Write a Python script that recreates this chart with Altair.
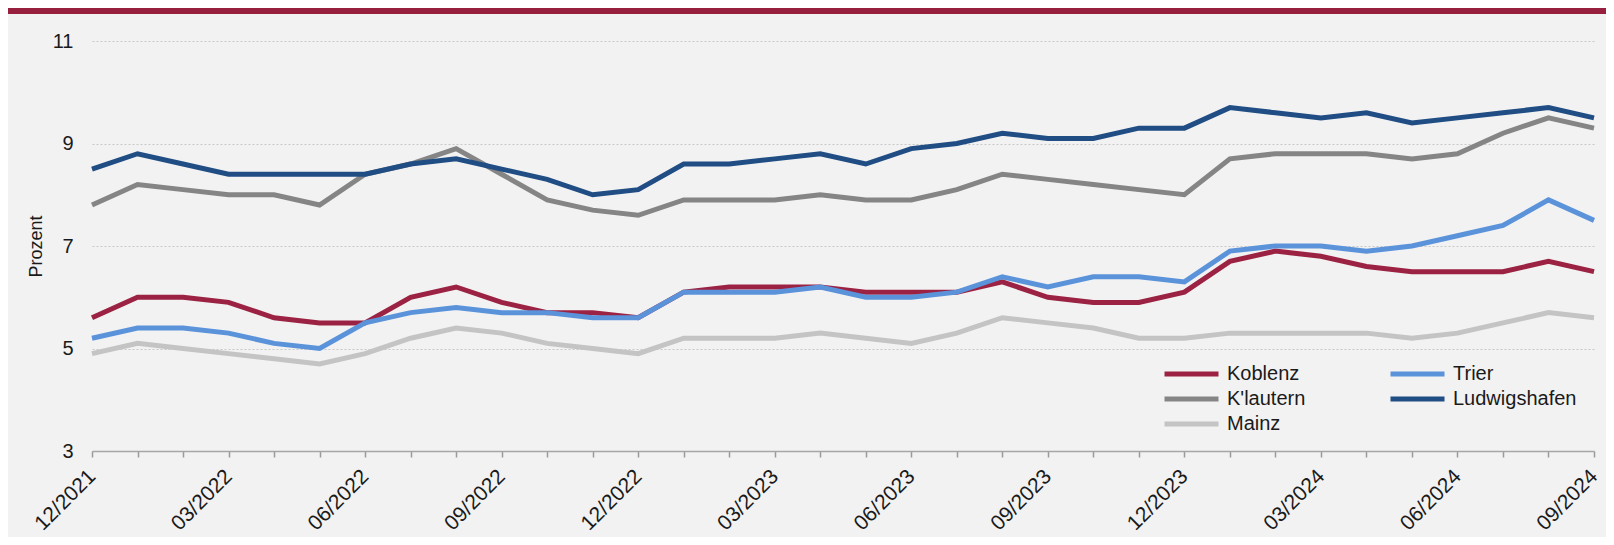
import altair as alt
import pandas as pd

months = ["12/2021", "01/2022", "02/2022", "03/2022", "04/2022", "05/2022", "06/2022",
          "07/2022", "08/2022", "09/2022", "10/2022", "11/2022", "12/2022",
          "01/2023", "02/2023", "03/2023", "04/2023", "05/2023", "06/2023",
          "07/2023", "08/2023", "09/2023", "10/2023", "11/2023", "12/2023",
          "01/2024", "02/2024", "03/2024", "04/2024", "05/2024", "06/2024",
          "07/2024", "08/2024", "09/2024"]

koblenz = [5.6, 6.0, 6.0, 5.9, 5.6, 5.5, 5.5, 6.0, 6.2, 5.9, 5.7, 5.7, 5.6,
           6.1, 6.2, 6.2, 6.2, 6.1, 6.1, 6.1, 6.3, 6.0, 5.9, 5.9, 6.1,
           6.7, 6.9, 6.8, 6.6, 6.5, 6.5, 6.5, 6.7, 6.5]
trier = [5.2, 5.4, 5.4, 5.3, 5.1, 5.0, 5.5, 5.7, 5.8, 5.7, 5.7, 5.6, 5.6,
         6.1, 6.1, 6.1, 6.2, 6.0, 6.0, 6.1, 6.4, 6.2, 6.4, 6.4, 6.3,
         6.9, 7.0, 7.0, 6.9, 7.0, 7.2, 7.4, 7.9, 7.5]
klautern = [7.8, 8.2, 8.1, 8.0, 8.0, 7.8, 8.4, 8.6, 8.9, 8.4, 7.9, 7.7, 7.6,
            7.9, 7.9, 7.9, 8.0, 7.9, 7.9, 8.1, 8.4, 8.3, 8.2, 8.1, 8.0,
            8.7, 8.8, 8.8, 8.8, 8.7, 8.8, 9.2, 9.5, 9.3]
ludwigshafen = [8.5, 8.8, 8.6, 8.4, 8.4, 8.4, 8.4, 8.6, 8.7, 8.5, 8.3, 8.0, 8.1,
                8.6, 8.6, 8.7, 8.8, 8.6, 8.9, 9.0, 9.2, 9.1, 9.1, 9.3, 9.3,
                9.7, 9.6, 9.5, 9.6, 9.4, 9.5, 9.6, 9.7, 9.5]
mainz = [4.9, 5.1, 5.0, 4.9, 4.8, 4.7, 4.9, 5.2, 5.4, 5.3, 5.1, 5.0, 4.9,
         5.2, 5.2, 5.2, 5.3, 5.2, 5.1, 5.3, 5.6, 5.5, 5.4, 5.2, 5.2,
         5.3, 5.3, 5.3, 5.3, 5.2, 5.3, 5.5, 5.7, 5.6]

cities = ["Koblenz", "Trier", "K'lautern", "Ludwigshafen", "Mainz"]
series = [koblenz, trier, klautern, ludwigshafen, mainz]
colors = ["#9b2242", "#5b93da", "#858585", "#1f4d84", "#c4c4c4"]
y_ticks = [3, 5, 7, 9, 11]

FONT = "Liberation Sans"
W, H = 1502, 410

color_scale = alt.Scale(domain=cities, range=colors)

layers = []
for name, vals in zip(cities, series):
    df = pd.DataFrame({"Monat": months, "Wert": vals, "Stadt": name})
    if name == cities[0]:
        legend = alt.Legend(
            title=None, orient="none", legendX=1070, legendY=323, columns=2,
            direction="horizontal", clipHeight=20,
            symbolType="stroke", symbolStrokeWidth=5, symbolSize=2916,
            labelFontSize=20, labelFont=FONT, labelColor="#1a1a1a",
            columnPadding=82, rowPadding=5, labelOffset=6, padding=0,
            values=cities,
        )
        enc_color = alt.Color("Stadt:N", scale=color_scale, legend=legend)
    else:
        enc_color = alt.Color("Stadt:N", scale=color_scale, legend=None)
    line = alt.Chart(df).mark_line(strokeWidth=5, strokeJoin="miter", strokeCap="butt").encode(
        x=alt.X("Monat:O", sort=months, title=None,
                scale=alt.Scale(type="point", padding=0),
                axis=alt.Axis(
                    labelAngle=-45, labelAlign="right", labelBaseline="middle",
                    labelFont=FONT, labelFontSize=21, labelColor="#1a1a1a",
                    labelPadding=16, labelOverlap=False,
                    labelExpr="indexof(['03','06','09','12'], slice(datum.value,0,2)) >= 0 ? datum.value : ''",
                    ticks=True, tickSize=6, tickColor="#9a9a9a", tickWidth=1.5,
                    domainColor="#a6a6a6", domainWidth=1.5, grid=False,
                )),
        y=alt.Y("Wert:Q", title="Prozent",
                scale=alt.Scale(domain=[3, 11], nice=False, zero=False),
                axis=alt.Axis(
                    values=y_ticks, labelFont=FONT, labelFontSize=20, labelColor="#1a1a1a",
                    labelPadding=19, ticks=False, tickSize=0, domain=False,
                    grid=True, gridColor="#c8c8c8", gridDash=[2, 2], gridWidth=1.2,
                    titleFont=FONT, titleFontSize=18, titleFontWeight="normal",
                    titleColor="#1a1a1a", titlePadding=7,
                )),
        color=enc_color,
    )
    layers.append(line)

band = alt.Chart(pd.DataFrame({"a": [0]})).mark_rect(color="#97203e").encode(
    x=alt.value(-90), x2=alt.value(W + 20),
    y=alt.value(-33), y2=alt.value(-27),
)

chart = alt.layer(band, *layers).properties(
    width=W, height=H,
    background="#f2f2f2",
    padding={"left": 84, "top": 33, "right": 12, "bottom": 86},
    autosize=alt.AutoSizeParams(type="none"),
).configure_view(stroke=None)

chart.save("out.html", embed_options={"renderer": "svg", "actions": False})
